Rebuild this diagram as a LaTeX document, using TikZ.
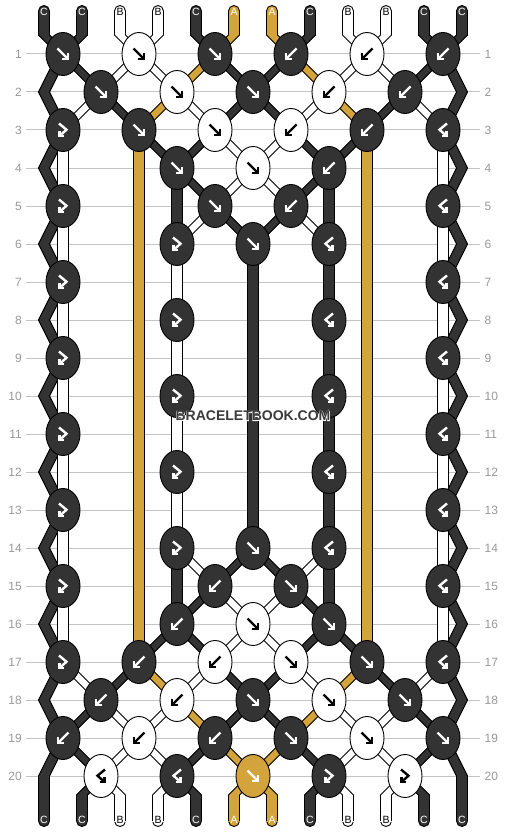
\documentclass[tikz,border=0pt]{standalone}
\usepackage{fontspec}
\setmainfont{Liberation Sans}
\newfontfamily\halofont[FakeBold=6]{Liberation Sans Bold}
\newfontfamily\wmfont{Liberation Sans Bold}
\usetikzlibrary{shapes.geometric}
\definecolor{dk}{HTML}{333333}
\definecolor{gd}{HTML}{D4A43C}
\definecolor{numgray}{HTML}{999999}
\definecolor{gridgray}{HTML}{C4C4C4}
\definecolor{wmcol}{HTML}{3A3A3A}

% one string: #1 colour, #2 x at top, #3 x at bottom, #4 inner points x/y
\newcommand\strand[4]{%
  \filldraw[fill=#1, draw=black, line width=0.9pt] (#2,11) circle[radius=5.5];
  \filldraw[fill=#1, draw=black, line width=0.9pt] (#3,821) circle[radius=5.5];
  \foreach \xx/\yy [remember=\xx as \lx (initially #2), remember=\yy as \ly (initially 11)] in {#4,#3/821} {
    \filldraw[fill=#1, draw=#1, line width=0.4pt] (\lx-5.5,\ly) -- (\lx+5.5,\ly) -- (\xx+5.5,\yy) -- (\xx-5.5,\yy) -- cycle;
  }
  \draw[black, line width=0.9pt] (#2-5.5,11) \foreach \xx/\yy in {#4,#3/821} { -- (\xx-5.5,\yy) };
  \draw[black, line width=0.9pt] (#2+5.5,11) \foreach \xx/\yy in {#4,#3/821} { -- (\xx+5.5,\yy) };
}

\begin{document}
\begin{tikzpicture}[x=1pt,y=-1pt,
  knot/.style={ellipse, draw=black, line width=0.9pt, minimum width=34pt, minimum height=43pt, inner sep=0pt},
  sym/.style={line width=2.4pt, line cap=butt, line join=miter},
  gridline/.style={draw=gridgray, line width=1pt},
  rownum/.style={font=\fontsize{12}{12}\selectfont, text=numgray, inner sep=0pt},
  lbl/.style={font=\fontsize{10.5}{10.5}\selectfont, inner sep=0pt},
  wmk/.style={font=\fontsize{14}{14}\selectfont, inner sep=0pt}]

\fill[white] (0,0) rectangle (506,832);
\useasboundingbox (0,0) rectangle (506,832);

% row lines and numbers
\foreach \r in {1,...,20} {
  \draw[gridline] (26,{54+38*(\r-1)}) -- (480,{54+38*(\r-1)});
  \node[rownum, anchor=east] (nl\r) at (22,{54+38*(\r-1)}) {\r};
  \node[rownum, anchor=west] (nr\r) at (484.5,{54+38*(\r-1)}) {\r};
}

% strings, in order 1..12
\strand{dk}{44}{44}{44/35, 63/54, 101/92, 139/130, 177/168, 215/206, 253/244, 253/548, 215/586, 177/624, 139/662, 101/700, 63/738, 44/776}
\strand{dk}{82}{82}{82/35, 63/54, 44/92, 63/130, 44/168, 63/206, 44/244, 63/282, 44/320, 63/358, 44/396, 63/434, 44/472, 63/510, 44/548, 63/586, 44/624, 63/662, 44/700, 63/738, 101/776, 82/795}
\strand{white}{120}{120}{120/35, 139/54, 177/92, 215/130, 253/168, 291/206, 329/244, 329/548, 291/586, 253/624, 215/662, 177/700, 139/738, 101/776, 120/795}
\strand{white}{158}{158}{158/35, 139/54, 101/92, 63/130, 63/662, 101/700, 139/738, 177/776, 158/795}
\strand{dk}{196}{196}{196/35, 215/54, 253/92, 291/130, 329/168, 329/624, 291/662, 253/700, 215/738, 177/776, 196/795}
\strand{gd}{234}{272}{234/35, 215/54, 177/92, 139/130, 139/662, 177/700, 215/738, 253/776, 272/795}
\strand{gd}{272}{234}{272/35, 291/54, 329/92, 367/130, 367/662, 329/700, 291/738, 253/776, 234/795}
\strand{dk}{310}{310}{310/35, 291/54, 253/92, 215/130, 177/168, 177/624, 215/662, 253/700, 291/738, 329/776, 310/795}
\strand{white}{348}{348}{348/35, 367/54, 405/92, 443/130, 443/662, 405/700, 367/738, 329/776, 348/795}
\strand{white}{386}{386}{386/35, 367/54, 329/92, 291/130, 253/168, 215/206, 177/244, 177/548, 215/586, 253/624, 291/662, 329/700, 367/738, 405/776, 386/795}
\strand{dk}{424}{424}{424/35, 443/54, 462/92, 443/130, 462/168, 443/206, 462/244, 443/282, 462/320, 443/358, 462/396, 443/434, 462/472, 443/510, 462/548, 443/586, 462/624, 443/662, 462/700, 443/738, 405/776, 424/795}
\strand{dk}{462}{462}{462/35, 443/54, 405/92, 367/130, 329/168, 291/206, 253/244, 253/548, 291/586, 329/624, 367/662, 405/700, 443/738, 462/776}

% forward knots
\foreach \r/\x/\f/\s in {1/63/dk/white, 1/139/white/black, 1/215/dk/white,
  2/101/dk/white, 2/177/white/black, 2/253/dk/white,
  3/139/dk/white, 3/215/white/black, 4/177/dk/white, 4/253/white/black,
  5/215/dk/white, 6/253/dk/white, 14/253/dk/white, 15/291/dk/white,
  16/253/white/black, 16/329/dk/white, 17/291/white/black, 17/367/dk/white,
  18/253/dk/white, 18/329/white/black, 18/405/dk/white,
  19/291/dk/white, 19/367/white/black, 19/443/dk/white, 20/253/gd/white} {
  \node[knot, fill=\f] (k\r-\x) at (\x,{54+38*(\r-1)}) {};
  \begin{scope}[shift={(\x,{54+38*(\r-1)})}]
    \draw[sym, color=\s] (-5.5,-5.5) -- (5,5);
    \draw[sym, color=\s] (5,-0.8) -- (5,5) -- (-0.8,5);
  \end{scope}
}
% backward knots
\foreach \r/\x/\f/\s in {1/291/dk/white, 1/367/white/black, 1/443/dk/white,
  2/329/white/black, 2/405/dk/white, 3/291/white/black, 3/367/dk/white,
  4/329/dk/white, 5/291/dk/white, 15/215/dk/white, 16/177/dk/white,
  17/139/dk/white, 17/215/white/black, 18/101/dk/white, 18/177/white/black,
  19/63/dk/white, 19/139/white/black, 19/215/dk/white} {
  \node[knot, fill=\f] (k\r-\x) at (\x,{54+38*(\r-1)}) {};
  \begin{scope}[shift={(\x,{54+38*(\r-1)})}]
    \draw[sym, color=\s] (5.5,-5.5) -- (-5,5);
    \draw[sym, color=\s] (-5,-0.8) -- (-5,5) -- (0.8,5);
  \end{scope}
}
% forward-backward knots
\foreach \r/\x/\f/\s in {3/63/dk/white, 5/63/dk/white, 7/63/dk/white, 9/63/dk/white,
  11/63/dk/white, 13/63/dk/white, 15/63/dk/white, 17/63/dk/white,
  6/177/dk/white, 8/177/dk/white, 10/177/dk/white, 12/177/dk/white, 14/177/dk/white,
  20/329/dk/white, 20/405/white/black} {
  \node[knot, fill=\f] (k\r-\x) at (\x,{54+38*(\r-1)}) {};
  \begin{scope}[shift={(\x,{54+38*(\r-1)})}]
    \draw[sym, color=\s] (-4,-6.5) -- (3.5,-0.3) -- (-3.5,6);
    \draw[sym, color=\s] (-3.5,1.2) -- (-3.5,6) -- (1.3,6);
  \end{scope}
}
% backward-forward knots
\foreach \r/\x/\f/\s in {3/443/dk/white, 5/443/dk/white, 7/443/dk/white, 9/443/dk/white,
  11/443/dk/white, 13/443/dk/white, 15/443/dk/white, 17/443/dk/white,
  6/329/dk/white, 8/329/dk/white, 10/329/dk/white, 12/329/dk/white, 14/329/dk/white,
  20/101/white/black, 20/177/dk/white} {
  \node[knot, fill=\f] (k\r-\x) at (\x,{54+38*(\r-1)}) {};
  \begin{scope}[shift={(\x,{54+38*(\r-1)})}]
    \draw[sym, color=\s] (4,-6.5) -- (-3.5,-0.3) -- (3.5,6);
    \draw[sym, color=\s] (3.5,1.2) -- (3.5,6) -- (-1.3,6);
  \end{scope}
}

% string letters
\foreach \i/\x/\t/\c in {1/44/C/white, 2/82/C/white, 3/120/B/black, 4/158/B/black,
  5/196/C/white, 6/234/A/white, 7/272/A/white, 8/310/C/white, 9/348/B/black,
  10/386/B/black, 11/424/C/white, 12/462/C/white} {
  \node[lbl, text=\c] (t\i) at (\x,12) {\t};
  \node[lbl, text=\c] (b\i) at (\x,820) {\t};
}

% watermark with a white halo, in one node
\node[wmk] (wmark) at (253,416) {\rlap{\halofont\color{white}BRACELETBOOK.COM}{\wmfont\color{wmcol}BRACELETBOOK.COM}};
\end{tikzpicture}
\end{document}
